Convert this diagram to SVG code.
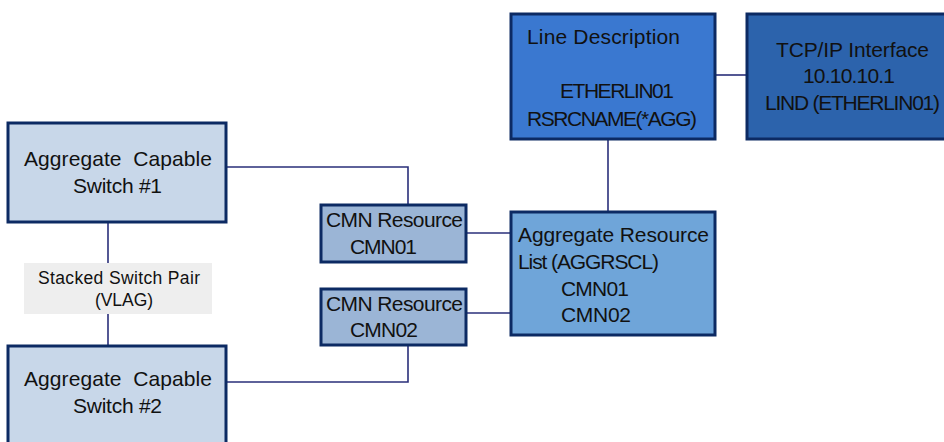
<svg xmlns="http://www.w3.org/2000/svg" width="944" height="442" viewBox="0 0 944 442">
<style>
.box{stroke:#0c2a63;stroke-width:3}
.sw{fill:#c8d7e9}
.cmn{fill:#9bb5d6}
.agg{fill:#6fa5d9}
.lind{fill:#3a78d0}
.tcp{fill:#2c63ac}
.conn{stroke:#2a2f7a;stroke-width:1.6;fill:none}
text{font-family:"Liberation Sans",Arial,sans-serif;font-size:21px;fill:#111}
.sm{font-size:17.5px}
</style>
<rect width="944" height="442" fill="#ffffff"/>
<g id="connectors">
<path class="conn" d="M716,75 H746"/>
<path class="conn" d="M608,139 V211"/>
<path class="conn" d="M227,167 H408 V204"/>
<path class="conn" d="M227,382 H408 V346"/>
<path class="conn" d="M467,233 H510"/>
<path class="conn" d="M467,313 H510"/>
<path class="conn" d="M108,222 V263"/>
<path class="conn" d="M108,314 V345"/>
</g>
<g id="line-description">
<rect class="box lind" x="511" y="14" width="204" height="125"/>
<text x="527" y="44" textLength="153">Line Description</text>
<text x="560" y="98" textLength="114">ETHERLIN01</text>
<text x="527" y="126" textLength="170">RSRCNAME(*AGG)</text>
</g>
<g id="tcpip-interface">
<rect class="box tcp" x="747" y="14" width="210" height="125"/>
<text x="776" y="57" textLength="153">TCP/IP Interface</text>
<text x="803" y="83" textLength="92">10.10.10.1</text>
<text x="765" y="110" textLength="175">LIND (ETHERLIN01)</text>
</g>
<g id="switch1">
<rect class="box sw" x="8" y="123" width="218" height="99"/>
<text x="24" y="166" textLength="188">Aggregate&#160; Capable</text>
<text x="73" y="193" textLength="89">Switch #1</text>
</g>
<g id="stacked-label">
<rect x="24" y="263" width="188" height="51" fill="#eeeeee"/>
<text class="sm" x="38" y="284" textLength="162">Stacked Switch Pair</text>
<text class="sm" x="95" y="306" textLength="58">(VLAG)</text>
</g>
<g id="switch2">
<rect class="box sw" x="8" y="346" width="218" height="110"/>
<text x="24" y="386" textLength="188">Aggregate&#160; Capable</text>
<text x="73" y="413" textLength="89">Switch #2</text>
</g>
<g id="cmn01">
<rect class="box cmn" x="321" y="205" width="145" height="57"/>
<text x="326" y="227" textLength="137">CMN Resource</text>
<text x="350" y="254" textLength="67">CMN01</text>
</g>
<g id="cmn02">
<rect class="box cmn" x="321" y="289" width="145" height="56"/>
<text x="326" y="311" textLength="137">CMN Resource</text>
<text x="350" y="337" textLength="68">CMN02</text>
</g>
<g id="aggrscl">
<rect class="box agg" x="511" y="212" width="204" height="123"/>
<text x="518" y="242" textLength="191">Aggregate Resource</text>
<text x="518" y="269" textLength="141">List (AGGRSCL)</text>
<text x="561" y="296" textLength="68">CMN01</text>
<text x="561" y="322" textLength="70">CMN02</text>
</g>
</svg>
